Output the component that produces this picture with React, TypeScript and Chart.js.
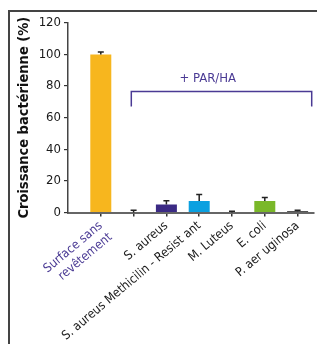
import React, { useEffect, useRef } from "react";
import { Chart, registerables } from "chart.js";

Chart.register(...registerables);

const LABELS: (string | string[])[] = [
  ["Surface sans", "revêtement"],
  "",
  "S. aureus",
  "S. aureus Methicilin - Resist ant",
  "M. Luteus",
  "E. coli",
  "P. aer uginosa",
];
const VALUES = [100, 0, 5, 7.2, 0, 7.2, 0.8];
const ERRORS = [1.6, 1.5, 2.5, 4.2, 0.8, 2.3, 0.6];
const COLORS = ["#F7B61E", "#999999", "#3B2A84", "#0BA0E0", "#999999", "#7AB829", "#1a1a1a"];
const Y_TICKS = [0, 20, 40, 60, 80, 100, 120];
const Y_TITLE = "Croissance bactérienne (%)";
const BRACKET_TEXT = "+ PAR/HA";
const BRACKET_START = 0.93;
const BRACKET_END = 6.43;
const BRACKET_LEVEL = 76.5;
const BRACKET_FOOT = 67;
const BRACKET_TEXT_Y = 84.5;
const BRACKET_TEXT_X = 3.26;

const FONT = "'DejaVu Sans Condensed', 'Liberation Sans Narrow', sans-serif";
const PURPLE = "#4A3A94";

const errorBars = {
  id: "errorBars",
  afterDatasetsDraw(chart: any) {
    const ctx = chart.ctx;
    const meta = chart.getDatasetMeta(0);
    const y = chart.scales.y;
    ctx.save();
    ctx.strokeStyle = "#222";
    ctx.lineWidth = 1.5;
    meta.data.forEach((bar: any, i: number) => {
      const top = y.getPixelForValue(VALUES[i] + ERRORS[i]);
      const base = y.getPixelForValue(VALUES[i]);
      ctx.beginPath();
      ctx.moveTo(bar.x, base);
      ctx.lineTo(bar.x, top);
      ctx.moveTo(bar.x - 3, top);
      ctx.lineTo(bar.x + 3, top);
      ctx.stroke();
    });
    ctx.restore();
  },
};

const bracket = {
  id: "bracket",
  afterDraw(chart: any) {
    const ctx = chart.ctx;
    const x = chart.scales.x;
    const y = chart.scales.y;
    const x1 = x.getPixelForValue(BRACKET_START);
    const x2 = x.getPixelForValue(BRACKET_END);
    const yl = y.getPixelForValue(BRACKET_LEVEL);
    const yf = y.getPixelForValue(BRACKET_FOOT);
    ctx.save();
    ctx.strokeStyle = PURPLE;
    ctx.lineWidth = 1.5;
    ctx.beginPath();
    ctx.moveTo(x1, yf);
    ctx.lineTo(x1, yl);
    ctx.lineTo(x2, yl);
    ctx.lineTo(x2, yf);
    ctx.stroke();
    ctx.fillStyle = PURPLE;
    ctx.font = `500 13px ${FONT}`;
    ctx.textAlign = "center";
    ctx.textBaseline = "middle";
    ctx.fillText(BRACKET_TEXT, x.getPixelForValue(BRACKET_TEXT_X), y.getPixelForValue(BRACKET_TEXT_Y));
    ctx.restore();
  },
};

export default function App() {
  const ref = useRef<HTMLCanvasElement>(null);
  useEffect(() => {
    if (!ref.current) return;
    const chart = new Chart(ref.current, {
      type: "bar",
      data: {
        datasets: [
          {
            data: VALUES.map((v, i) => ({ x: i, y: v })),
            backgroundColor: COLORS,
            borderWidth: 0,
            barPercentage: 0.64,
            categoryPercentage: 1,
          },
        ],
      },
      options: {
        animation: false,
        responsive: false,
        layout: { padding: { left: 0, right: 11, top: 9.5, bottom: 0 } },
        plugins: { legend: { display: false }, tooltip: { enabled: false } },
        scales: {
          x: {
            type: "linear",
            offset: false,
            min: -1,
            max: 6.5,
            afterBuildTicks: (s: any) => {
              s.ticks = LABELS.map((_, i) => ({ value: i }));
            },
            afterFit: (s: any) => {
              s.height = 131.5;
            },
            grid: { offset: false, drawOnChartArea: false, drawTicks: true, tickLength: 4, color: "#333", lineWidth: 1.5 },
            border: { display: true, color: "#666", width: 2 },
            ticks: {
              autoSkip: false,
              minRotation: 40,
              maxRotation: 40,
              padding: 2,
              color: (c: any) => (c.index === 0 ? PURPLE : "#1a1a1a"),
              font: { family: FONT, size: 12.5 },
              callback: (v: any) => LABELS[v as number] ?? "",
            },
          },
          y: {
            min: 0,
            max: 120,
            afterBuildTicks: (s: any) => {
              s.ticks = Y_TICKS.map((v) => ({ value: v }));
            },
            afterFit: (s: any) => {
              s.width = 58;
            },
            grid: { drawOnChartArea: false, drawTicks: true, tickLength: 4, color: "#333", lineWidth: 1.2 },
            border: { display: true, color: "#444", width: 1.5 },
            ticks: {
              padding: 3,
              color: "#1a1a1a",
              font: { family: FONT, size: 13 },
            },
            title: {
              display: true,
              text: Y_TITLE,
              color: "#111",
              font: { family: FONT, size: 14.5, weight: "bold" },
              padding: { top: 5.5, bottom: 0 },
            },
          },
        },
      },
      plugins: [errorBars, bracket],
    });
    return () => chart.destroy();
  }, []);
  return (
    <div
      style={{
        marginTop: 2,
        width: 317,
        height: 334,
        boxSizing: "border-box",
        borderTop: "2px solid #444",
        borderLeft: "2px solid #444",
        overflow: "hidden",
      }}
    >
      <canvas ref={ref} width={315} height={332} style={{ display: "block" }} />
    </div>
  );
}
